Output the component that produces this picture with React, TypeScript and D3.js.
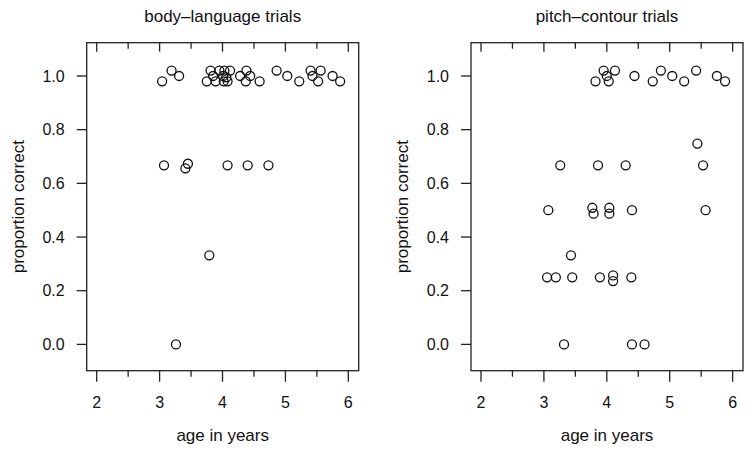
import * as d3 from "d3";

// body-language panel: age (years) and jittered proportion correct
const bodyAge = [
  3.04, 3.19, 3.31, 3.75, 3.81, 3.85, 3.89, 3.95, 4.01, 4.03, 4.02, 4.12, 4.06,
  4.08, 4.28, 4.38, 4.37, 4.44, 4.59, 4.86, 5.03, 5.22, 5.4, 5.43, 5.56, 5.52,
  5.75, 5.87, 3.07, 3.41, 3.45, 4.08, 4.4, 4.73, 3.79, 3.26,
];
const bodyScore = [
  0.98, 1.02, 1.0, 0.98, 1.02, 1.0, 0.98, 1.02, 1.0, 1.02, 0.98, 1.02, 0.995,
  0.98, 1.0, 1.02, 0.98, 1.0, 0.98, 1.02, 1.0, 0.98, 1.02, 1.0, 1.02, 0.98,
  1.0, 0.98, 0.667, 0.656, 0.673, 0.667, 0.667, 0.667, 0.332, 0.0,
];

// pitch-contour panel
const pitchAge = [
  3.82, 3.95, 4.0, 4.03, 4.13, 4.44, 4.73, 4.86, 5.04, 5.23, 5.42, 5.75, 5.88,
  5.44, 3.26, 3.86, 4.3, 5.53, 3.07, 3.77, 3.79, 4.04, 4.04, 4.4, 5.57, 3.43,
  3.05, 3.19, 3.45, 3.89, 4.1, 4.1, 4.39, 3.32, 4.4, 4.6,
];
const pitchScore = [
  0.98, 1.02, 1.0, 0.98, 1.02, 1.0, 0.98, 1.02, 1.0, 0.98, 1.02, 1.0, 0.98,
  0.748, 0.667, 0.667, 0.667, 0.667, 0.5, 0.509, 0.487, 0.509, 0.487, 0.5, 0.5,
  0.332, 0.25, 0.25, 0.25, 0.25, 0.257, 0.236, 0.25, 0.0, 0.0, 0.0,
];

const xMajorTicks = [2, 3, 4, 5, 6];
const xMinorTicks = [2.5, 3.5, 4.5, 5.5];
const yTicks = [0, 0.2, 0.4, 0.6, 0.8, 1.0];

const width = 750;
const height = 450;
const boxTop = 42.7;
const boxBottom = 370.7;
const boxWidth = 272;
const font = "'Liberation Sans', Arial, Helvetica, sans-serif";

function Panel({ left, title, ages, scores }) {
  const right = left + boxWidth;
  const x = d3.scaleLinear([1.841, 6.165], [left, right]);
  const y = d3.scaleLinear([-0.098, 1.124], [boxBottom, boxTop]);
  const cx = (left + right) / 2;
  const cy = (boxTop + boxBottom) / 2;

  return (
    <g fontFamily={font} fill="#111">
      <text x={cx} y={22} textAnchor="middle" fontSize={17}>
        {title}
      </text>
      <rect
        x={left}
        y={boxTop}
        width={boxWidth}
        height={boxBottom - boxTop}
        fill="none"
        stroke="#222"
        strokeWidth={1.3}
      />
      <g stroke="#222" strokeWidth={1.3}>
        {xMajorTicks.map((t) => (
          <g key={t}>
            <line x1={x(t)} x2={x(t)} y1={boxBottom} y2={boxBottom + 11} />
            <line x1={x(t)} x2={x(t)} y1={boxTop} y2={boxTop + 9} />
          </g>
        ))}
        {xMinorTicks.map((t) => (
          <g key={t}>
            <line x1={x(t)} x2={x(t)} y1={boxBottom} y2={boxBottom + 6} />
            <line x1={x(t)} x2={x(t)} y1={boxTop} y2={boxTop + 6} />
          </g>
        ))}
        {yTicks.map((t) => (
          <line key={t} x1={left - 10} x2={left} y1={y(t)} y2={y(t)} />
        ))}
      </g>
      {xMajorTicks.map((t) => (
        <text key={t} x={x(t)} y={408} textAnchor="middle" fontSize={16}>
          {t}
        </text>
      ))}
      {yTicks.map((t) => (
        <text
          key={t}
          x={left - 22}
          y={y(t)}
          dy="0.36em"
          textAnchor="end"
          fontSize={16}
        >
          {d3.format(".1f")(t)}
        </text>
      ))}
      <text x={cx} y={441} textAnchor="middle" fontSize={17}>
        age in years
      </text>
      <text
        transform={`translate(${left - 63},${cy}) rotate(-90)`}
        textAnchor="middle"
        fontSize={17}
      >
        proportion correct
      </text>
      <g fill="none" stroke="#111" strokeWidth={1.3}>
        {ages.map((a, i) => (
          <circle key={i} cx={x(a)} cy={y(scores[i])} r={4.5} />
        ))}
      </g>
    </g>
  );
}

export default function App() {
  return (
    <svg
      width={width}
      height={height}
      style={{ position: "absolute", left: 0, top: 0, background: "#fff" }}
    >
      <Panel left={86.7} title="body–language trials" ages={bodyAge} scores={bodyScore} />
      <Panel left={471} title="pitch–contour trials" ages={pitchAge} scores={pitchScore} />
    </svg>
  );
}
